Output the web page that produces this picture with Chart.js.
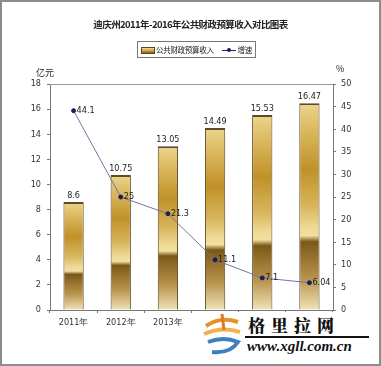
<!DOCTYPE html>
<html>
<head>
<meta charset="utf-8">
<script src="https://cdn.jsdelivr.net/npm/chart.js@4"></script>
<style>
  body { margin: 0; background: #fff; }
  #wrap { position: relative; width: 381px; height: 366px; overflow: hidden; }
  #frame { position: absolute; left: 0; top: 0; width: 381px; height: 366px; box-sizing: border-box; border: 2px solid #8c8c8c; pointer-events: none; }
  .txt { position: absolute; font-family: 'Noto Sans CJK SC', sans-serif; color: #222; white-space: nowrap; }
  #title { left: 0; width: 381px; top: 17px; text-align: center; font-size: 9.5px; font-weight: bold; letter-spacing: -0.6px; }
  #legend { left: 137px; top: 41px; height: 15px; border: 1px solid #777; font-size: 7.5px; padding: 0 3px 0 3px; line-height: 15px; letter-spacing: -0.3px; }
  #legend .sw { display: inline-block; width: 12px; height: 5px; border: 1px solid #5a4620; vertical-align: middle; margin-right: 1px;
    background: linear-gradient(#f0dc98, #c49a36 60%, #7f6020); }
  #legend .ln { display: inline-block; width: 14px; height: 1px; background: #23236a; vertical-align: middle; margin: 0 2px 0 8px; position: relative; }
  #legend .ln i { position: absolute; left: 5px; top: -2px; width: 4px; height: 4px; border-radius: 2px; background: #1c1c5c; }
  #unitL { left: 36px; top: 66px; font-size: 9px; }
  #unitR { left: 336px; top: 62px; font-size: 9px; }
  #mark { position: absolute; left: 198px; top: 312px; width: 180px; height: 50px; background: #fff; }
  #mark .cn { position: absolute; left: 50px; top: 0px; font-family: 'Noto Serif CJK SC', 'Noto Sans CJK SC', serif; font-weight: 900; font-size: 17px; letter-spacing: 6px; color: #111; }
  #mark .bar { position: absolute; left: 47px; top: 24px; width: 124px; height: 2px; background: #111; }
  #mark .url { position: absolute; left: 49px; top: 26px; font-family: 'Liberation Serif', serif; font-style: italic; font-weight: bold; font-size: 15px; color: #111; }
</style>
</head>
<body>
<div id="wrap">
  <canvas id="revChart" width="381" height="366"></canvas>
  <div class="txt" id="title">迪庆州2011年-2016年公共财政预算收入对比图表</div>
  <div class="txt" id="legend"><span class="sw"></span>公共财政预算收入<span class="ln"><i></i></span>增速</div>
  <div class="txt" id="unitL">亿元</div>
  <div class="txt" id="unitR">%</div>
  <div id="mark">
    <svg width="46" height="46" style="position:absolute;left:2px;top:0px">
      <path d="M6 14 Q20 4 38 10" stroke="#e8902a" stroke-width="4" fill="none"/>
      <path d="M4 22 Q22 14 40 20" stroke="#f2b24a" stroke-width="4" fill="none"/>
      <path d="M8 30 Q24 24 38 30 Q30 42 12 40" stroke="#3d7fc0" stroke-width="4" fill="none"/>
      <path d="M22 2 L24 18" stroke="#e07a20" stroke-width="3" fill="none"/>
    </svg>
    <div class="cn">格里拉网</div>
    <div class="bar"></div>
    <div class="url">www.xgll.com.cn</div>
  </div>
  <div id="frame"></div>
</div>
<script>
// 数据
const years = ['2011年', '2012年', '2013年', '2014年', '2015年', '2016年'];
const revenue = [8.6, 10.75, 13.05, 14.49, 15.53, 16.47];
const growth = [44.1, 25, 21.3, 11.1, 7.1, 6.04];
const growthText = ['44.1', '25', '21.3', '11.1', '7.1', '6.04'];
const leftTicks = [0, 18, 2];
const rightTicks = [0, 50, 5];

const tickFont = { family: "'Liberation Sans Narrow', 'DejaVu Sans Condensed', sans-serif", size: 9 };

// 柱子的金色渐变
function barFill(context) {
  const chart = context.chart;
  if (!chart.chartArea || !chart.scales.y) return '#c49a36';
  const y = chart.scales.y;
  const top = y.getPixelForValue(revenue[context.dataIndex]);
  const bottom = y.getPixelForValue(0);
  const g = chart.ctx.createLinearGradient(0, top, 0, bottom);
  g.addColorStop(0, '#ecd58e');
  g.addColorStop(0.12, '#dcbb62');
  g.addColorStop(0.32, '#c09129');
  g.addColorStop(0.5, '#d8b65c');
  g.addColorStop(0.6, '#efd996');
  g.addColorStop(0.64, '#f2dfa2');
  g.addColorStop(0.67, '#7a5818');
  g.addColorStop(0.72, '#8d6a26');
  g.addColorStop(0.85, '#b8944e');
  g.addColorStop(1, '#f1e3b8');
  return g;
}

// 数值标签
const valueLabels = {
  id: 'valueLabels',
  afterDatasetsDraw(chart) {
    const ctx = chart.ctx;
    ctx.save();
    ctx.font = "9px 'Liberation Sans Narrow', 'DejaVu Sans Condensed', sans-serif";
    ctx.fillStyle = '#222';
    chart.getDatasetMeta(0).data.forEach((bar, i) => {
      ctx.textAlign = 'center';
      ctx.textBaseline = 'bottom';
      ctx.fillText(String(revenue[i]), bar.x, bar.y - 2);
    });
    chart.getDatasetMeta(1).data.forEach((pt, i) => {
      ctx.textAlign = 'left';
      ctx.textBaseline = 'middle';
      ctx.fillText(growthText[i], pt.x + 3, pt.y);
    });
    ctx.restore();
  }
};

// 绘图区上边框
const topBorder = {
  id: 'topBorder',
  beforeDatasetsDraw(chart) {
    const a = chart.chartArea;
    const ctx = chart.ctx;
    ctx.save();
    ctx.strokeStyle = '#9a9a9a';
    ctx.lineWidth = 1;
    ctx.beginPath();
    ctx.moveTo(a.left, a.top + 0.5);
    ctx.lineTo(a.right, a.top + 0.5);
    ctx.stroke();
    ctx.restore();
  }
};

const ctx1 = document.getElementById('revChart').getContext('2d');
new Chart(ctx1, {
  type: 'bar',
  data: {
    labels: years,
    datasets: [{
      label: '公共财政预算收入',
      data: revenue,
      backgroundColor: barFill,
      borderColor: '#5e4a26',
      borderWidth: { top: 2, left: 1, right: 1, bottom: 0 },
      borderSkipped: false,
      categoryPercentage: 1,
      barPercentage: 0.43,
      yAxisID: 'y',
      order: 2
    }, {
      type: 'line',
      label: '增速',
      data: growth,
      borderColor: '#7272a6',
      borderWidth: 1,
      pointBackgroundColor: '#1c1c5c',
      pointBorderColor: '#1c1c5c',
      pointRadius: 2,
      tension: 0,
      yAxisID: 'y1',
      order: 1
    }]
  },
  options: {
    responsive: false,
    animation: false,
    layout: { padding: { top: 84, left: 0, right: 0, bottom: 0 } },
    plugins: {
      legend: { display: false },
      title: { display: false },
      tooltip: { enabled: false }
    },
    scales: {
      x: {
        grid: { display: true, drawOnChartArea: false, offset: true, color: '#777', tickLength: 3 },
        border: { color: '#777' },
        ticks: { font: tickFont, color: '#333', padding: 4, maxRotation: 0 },
        afterFit: s => { s.height = 56; }
      },
      y: {
        position: 'left',
        min: leftTicks[0], max: leftTicks[1],
        grid: { display: true, drawOnChartArea: false, color: '#777', tickLength: 3 },
        border: { color: '#777' },
        ticks: { stepSize: leftTicks[2], font: tickFont, color: '#333', padding: 6 },
        afterFit: s => { s.width = 50; }
      },
      y1: {
        position: 'right',
        min: rightTicks[0], max: rightTicks[1],
        grid: { display: true, drawOnChartArea: false, color: '#777', tickLength: 3 },
        border: { color: '#777' },
        ticks: { stepSize: rightTicks[2], font: tickFont, color: '#333', padding: 5 },
        afterFit: s => { s.width = 48; }
      }
    }
  },
  plugins: [valueLabels, topBorder]
});
</script>
</body>
</html>
